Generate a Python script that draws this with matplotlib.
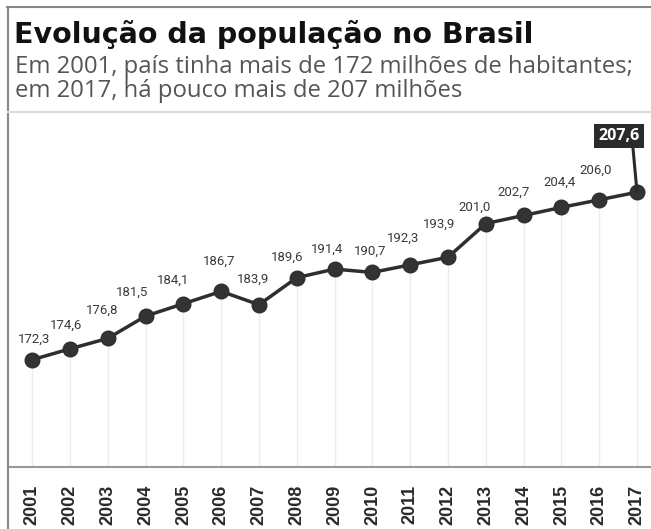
import matplotlib.pyplot as plt
from matplotlib.lines import Line2D

# dados (milhões de habitantes)
anos = [2001, 2002, 2003, 2004, 2005, 2006, 2007, 2008, 2009,
        2010, 2011, 2012, 2013, 2014, 2015, 2016, 2017]
populacao = [172.3, 174.6, 176.8, 181.5, 184.1, 186.7, 183.9, 189.6, 191.4,
             190.7, 192.3, 193.9, 201.0, 202.7, 204.4, 206.0, 207.6]
rotulos = [f"{v:.1f}".replace(".", ",") for v in populacao]

titulo = "Evolução da população no Brasil"
subtitulo = ["Em 2001, país tinha mais de 172 milhões de habitantes;",
             "em 2017, há pouco mais de 207 milhões"]

# deslocamento dos rótulos (pixels)
desloc = [(2, 20), (-4, 24), (-6, 28), (-13, 24), (-10, 23), (-2, 30),
          (-6, 25), (-10, 20), (-8, 20), (-2, 21), (-7, 27), (-9, 33),
          (-11, 16), (-10, 23), (-2, 25), (-4, 30)]

W, H = 651, 529
fig = plt.figure(figsize=(W / 100, H / 100), dpi=100)
fig.patch.set_facecolor("white")

ax = fig.add_axes([8 / W, 1 - 467 / H, (W - 8) / W, (467 - 112) / H])
ax.set_xlim(2000.36, 2017.37)
ax.set_ylim(149.7, 224.5)

# linhas verticais claras
ax.vlines(anos, 149.7, populacao, color="#ececec", lw=1, zorder=1)

ax.plot(anos, populacao, color="#2e2e2e", lw=2.5, marker="o",
        markersize=10.5, markerfacecolor="#333333", markeredgecolor="#2e2e2e",
        zorder=3)

for i in range(len(anos) - 1):
    ax.annotate(rotulos[i], (anos[i], populacao[i]), xytext=desloc[i],
                textcoords="offset pixels", ha="center", va="center",
                fontsize=9.5, family="Roboto", color="#3a3a3a")

# último valor em destaque
ax.annotate(rotulos[-1], (anos[-1], populacao[-1]), xytext=(-18, 56),
            textcoords="offset pixels", ha="center", va="center",
            fontsize=11.5, family="Open Sans", fontweight="bold", color="white",
            bbox=dict(boxstyle="square,pad=0.25", fc="#2b2b2b", ec="none"),
            arrowprops=dict(arrowstyle="-", color="#2b2b2b", lw=2.2,
                            relpos=(0.83, 0), shrinkA=0, shrinkB=0),
            zorder=4)

for s in ["left", "right", "top"]:
    ax.spines[s].set_visible(False)
ax.spines["bottom"].set_color("#999999")
ax.spines["bottom"].set_linewidth(1.5)
ax.set_yticks([])
ax.set_xticks(anos)
ax.set_xticklabels([str(a) for a in anos], rotation=90, va="top",
                   fontsize=13, family="Liberation Sans", fontweight="bold",
                   color="#2a2a2a")
ax.tick_params(axis="x", length=0, pad=13)

# molduras
fig.add_artist(Line2D([7 / W, 1], [1 - 7 / H, 1 - 7 / H], color="#888888", lw=1.5))
fig.add_artist(Line2D([8 / W, 8 / W], [0, 1 - 7 / H], color="#888888", lw=1.5))
fig.add_artist(Line2D([8 / W, 1], [1 - 112 / H, 1 - 112 / H], color="#dddddd", lw=1.5))

fig.text(14 / W, 1 - 43 / H, titulo, fontsize=20.5, family="DejaVu Sans",
         fontweight="bold", color="#111111", va="baseline")
for k, linha in enumerate(subtitulo):
    fig.text(15 / W, 1 - (73 + 24 * k) / H, linha, fontsize=17.2,
             family="Open Sans", color="#555555", va="baseline")

fig.savefig("out.png", dpi=100)
